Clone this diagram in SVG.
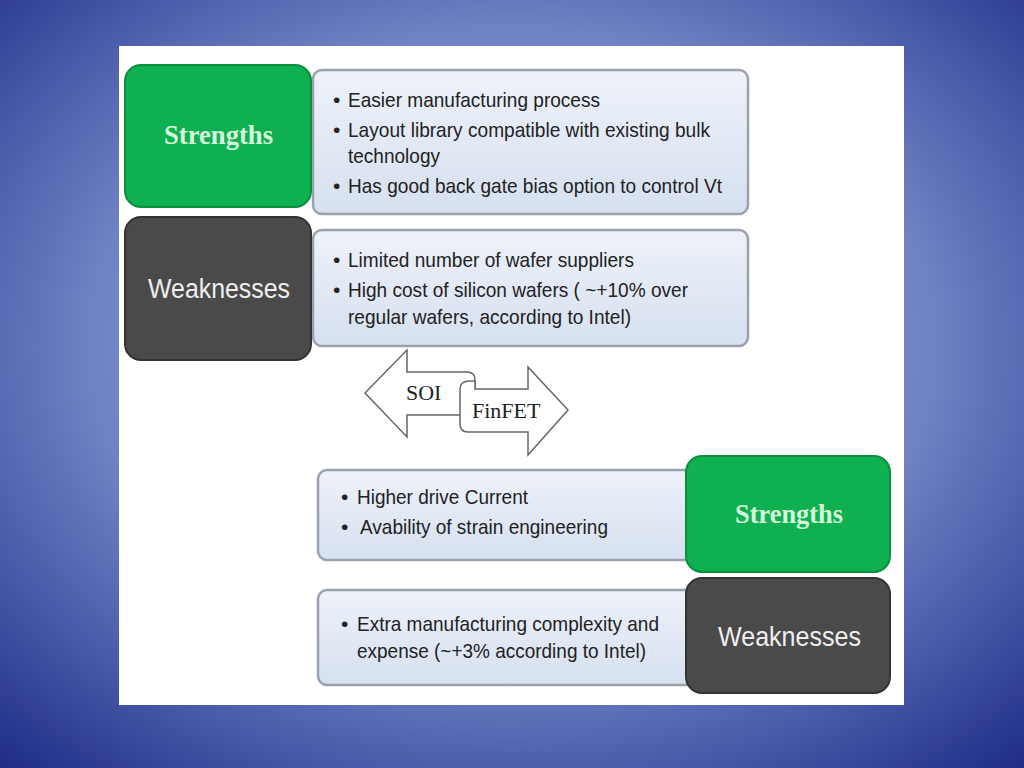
<svg xmlns="http://www.w3.org/2000/svg" width="1024" height="768" viewBox="0 0 1024 768">
<defs>
<radialGradient id="bg" cx="50%" cy="45%" r="75%">
<stop offset="0" stop-color="#a9b6dd"/><stop offset="0.55" stop-color="#6e82c4"/><stop offset="1" stop-color="#1c2a86"/>
</radialGradient>
<linearGradient id="tb" x1="0" y1="0" x2="0" y2="1"><stop offset="0" stop-color="#eef2fa"/><stop offset="1" stop-color="#d6e0ef"/></linearGradient>
</defs>
<style>
.g{fill:#0fb04f;stroke:#0a8f3e;stroke-width:2}
.d{fill:#4a4a4a;stroke:#333;stroke-width:2}
.tb{fill:url(#tb);stroke:#9aa3ad;stroke-width:2.5}
.t{font-family:"Liberation Sans",Arial,sans-serif;font-size:21px;fill:#222}
.ls{font-family:"Liberation Serif",serif;font-size:27px;fill:#d6f7dc;font-weight:bold}
.lw{font-family:"Liberation Sans",sans-serif;font-size:27px;fill:#eee}
.ar{fill:#fff;stroke:#666;stroke-width:1.5}
.at{font-family:"Liberation Serif",serif;font-size:22px;fill:#222}
</style>
<rect width="1024" height="768" fill="url(#bg)"/>
<rect x="119" y="46" width="785" height="659" fill="#fff"/>
<g id="soi-strengths-text"><rect class="tb" x="313" y="70" width="435" height="144" rx="9"/>
<text class="t" x="333" y="107">•</text><text class="t" x="348" y="107" textLength="252" lengthAdjust="spacingAndGlyphs">Easier manufacturing process</text>
<text class="t" x="333" y="137">•</text><text class="t" x="348" y="137" textLength="362" lengthAdjust="spacingAndGlyphs">Layout library compatible with existing bulk</text>
<text class="t" x="348" y="163" textLength="92" lengthAdjust="spacingAndGlyphs">technology</text>
<text class="t" x="333" y="193">•</text><text class="t" x="348" y="193" textLength="374" lengthAdjust="spacingAndGlyphs">Has good back gate bias option to control Vt</text></g>
<g id="soi-strengths"><rect class="g" x="125" y="65" width="186" height="142" rx="16"/><text class="ls" x="164" y="144" textLength="109" lengthAdjust="spacingAndGlyphs">Strengths</text></g>
<g id="soi-weak-text"><rect class="tb" x="313" y="230" width="435" height="116" rx="9"/>
<text class="t" x="333" y="267">•</text><text class="t" x="348" y="267" textLength="286" lengthAdjust="spacingAndGlyphs">Limited number of wafer suppliers</text>
<text class="t" x="333" y="297">•</text><text class="t" x="348" y="297" textLength="340" lengthAdjust="spacingAndGlyphs">High cost of silicon wafers ( ~+10% over</text>
<text class="t" x="348" y="324" textLength="283" lengthAdjust="spacingAndGlyphs">regular wafers, according to Intel)</text></g>
<g id="soi-weak"><rect class="d" x="125" y="217" width="186" height="143" rx="16"/><text class="lw" x="148" y="298" textLength="142" lengthAdjust="spacingAndGlyphs">Weaknesses</text></g>
<g id="arrows">
<g id="soi"><path class="ar" d="M365,393 L407,350 L407,372 L467,372 Q475,372 475,380 L475,415 L407,415 L407,437 Z"/><text class="at" x="406" y="400">SOI</text></g>
<g id="finfet"><path class="ar" d="M460,389 Q460,381 470,381 L475,381 L475,389 L528,389 L528,367 L568,410 L528,455 L528,432 L468,432 Q460,432 460,424 Z"/><text class="at" x="472" y="418">FinFET</text></g>
</g>
<g id="fin-strengths-text"><rect class="tb" x="318" y="470" width="380" height="90" rx="9"/>
<text class="t" x="341" y="504">•</text><text class="t" x="357" y="504" textLength="171" lengthAdjust="spacingAndGlyphs">Higher drive Current</text>
<text class="t" x="341" y="534">•</text><text class="t" x="360" y="534" textLength="248" lengthAdjust="spacingAndGlyphs">Avability of strain engineering</text></g>
<g id="fin-strengths"><rect class="g" x="686" y="456" width="204" height="116" rx="16"/><text class="ls" x="735" y="523" textLength="108" lengthAdjust="spacingAndGlyphs">Strengths</text></g>
<g id="fin-weak-text"><rect class="tb" x="318" y="590" width="380" height="95" rx="9"/>
<text class="t" x="341" y="631">•</text><text class="t" x="357" y="631" textLength="302" lengthAdjust="spacingAndGlyphs">Extra manufacturing complexity and</text>
<text class="t" x="357" y="658" textLength="289" lengthAdjust="spacingAndGlyphs">expense (~+3% according to Intel)</text></g>
<g id="fin-weak"><rect class="d" x="686" y="578" width="204" height="115" rx="16"/><text class="lw" x="718" y="646" textLength="143" lengthAdjust="spacingAndGlyphs">Weaknesses</text></g>
</svg>
